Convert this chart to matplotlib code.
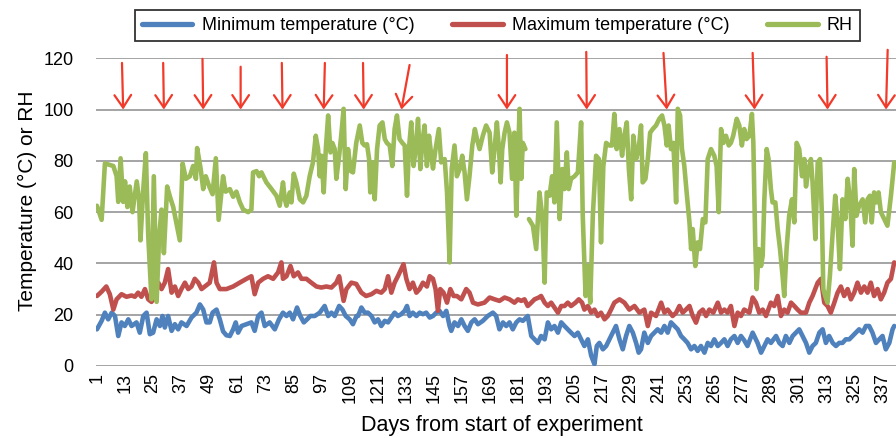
import numpy as np
import matplotlib
matplotlib.use("Agg")
import matplotlib.pyplot as plt

plt.rcParams['font.family'] = ['Liberation Sans', 'DejaVu Sans']

# ---- data (day, value) ----
rh_days = [1, 3, 4.4, 8, 9.4, 10.1, 11.1, 12.2, 13, 14, 15, 16.2, 18, 19, 19.6, 20.8, 21.9, 22.9, 24.3, 25.3,
           26.5, 27.6, 28.6, 29.6, 31, 32.2, 33.6, 36.4, 37.6, 39, 40.7, 42.1, 43.3, 43.8, 45.3, 46.4, 47.5, 49,
           50.4, 51.8, 53, 54.9, 56, 57.8, 59.2, 60.6, 62, 63.5, 65.6, 67, 67.7, 69.2, 70.3, 71.3, 73.4, 75.6,
           77.7, 79.1, 80.5, 81.3, 82, 83.4, 84.1, 85.1, 86.2, 87.7, 89.1, 90.5, 91.9, 93.3, 94.5, 95.5, 96.2,
           96.9, 97.9, 98.8, 99.8, 100.8, 101.6, 102.6, 103.3, 104.5, 105.5, 106.4, 107.3, 108.3, 109.5, 110.4,
           111.8, 113.3, 114.4, 115.4, 116.4, 117.3, 117.8, 118.7, 119.7, 120.7, 121.8, 123, 124, 124.9, 126.1,
           127.2, 128.2, 129.2, 130.3, 131.5, 132.5, 133.5, 134.3, 135.3, 136.3, 137.2, 138.2, 139.2, 140, 141,
           142, 142.9, 143.9, 144.6, 145.7, 147.1, 148.1, 149.6, 150.6, 151.7, 152.6, 153.8, 154.8, 156, 157.1,
           158.1, 159.1, 160.2, 161.4, 162.5, 163.4, 164.5, 165.9, 167.3, 168.8, 169.9, 170.9, 171.9, 172.8,
           173.5, 174.2, 175.2, 176.2, 177.3, 178.4, 179.4, 180.2, 180.9, 181.6, 182.3, 183, 184.1, 184.8,
           185.6, 187.3, 188.7, 190.1, 191.3, 192.3, 193.2, 194.4, 195.5, 196.5, 197.5, 198.7, 199.8, 200.8,
           201.8, 202.6, 203.6, 205.1, 206.5, 207.9, 208.6, 209.8, 210.8, 211.8, 212.9, 214.3, 215.5, 216.4,
           217.4, 218.6, 220, 221.1, 222.1, 223.1, 224.3, 225.4, 226.4, 227.4, 228.3, 229.3, 230.2, 231.4,
           232.5, 233.5, 234.2, 235.4, 236.4, 237.4, 238.5, 239.9, 241.3, 242.5, 243.5, 244.5, 245.3, 246.3,
           247.3, 248.5, 249.2, 250.2, 251, 252, 253, 254.2, 254.9, 255.6, 256.7, 257.7, 258.7, 259.9, 261, 262,
           263.4, 264.8, 265.8, 266.7, 267.7, 268.7, 269.8, 271, 271.9, 272.9, 274.4, 275.5, 276.6, 277.6,
           278.6, 279.8, 280.9, 281.5, 282.3, 282.9, 283.8, 284.8, 285.5, 286.2, 287.2, 288, 289, 289.7, 290.9,
           291.9, 292.9, 294, 294.7, 295.7, 296.8, 298, 299, 300, 301.1, 302.3, 303.3, 304, 305.1, 306.1,
           306.8, 308, 309, 310, 310.8, 311.4, 312.2, 313.2, 314.2, 315.4, 316.5, 317.5, 318.5, 319.6, 320.8,
           321.8, 322.8, 323.9, 324.6, 325.6, 326.7, 328.2, 329.3, 330.3, 331.3, 332.1, 333.1, 334.1, 335,
           336, 337.4, 338.8, 340.3, 341.7]
rh_vals = [62.5, 57, 79, 78, 74, 64, 81, 64, 72, 62, 70, 60, 72, 65, 49, 69, 83, 51, 26, 74,
           25, 51, 61, 44, 70, 66, 62, 49, 79, 73, 74, 78, 73, 85, 77, 69, 74, 70,
           67, 81, 57, 74, 68, 69, 66, 68, 64, 61, 60, 61, 75.5, 76, 74, 75.5, 71.6, 69,
           66.4, 62.5, 71.6, 65, 62.5, 67.7, 63.8, 75, 71.6, 65, 63.8, 66.4, 74, 79.4, 89.8, 84.6, 74,
           82, 67.7, 84.6, 97.7, 83.3, 87, 84.6, 73, 82, 91, 100.3, 69, 84.6, 76, 75.5,
           87, 93.8, 87, 86, 86.5, 80.7, 67.7, 79.4, 65, 84.6, 93.8, 95, 88.5, 87, 86,
           78, 92.4, 97.7, 88.5, 87, 86, 66.4, 84.6, 95, 78, 84.6, 96.4, 76.8, 87, 93.8,
           78, 89.8, 82, 77, 84.6, 92.4, 79.4, 80.7, 67.7, 40.4, 76.8, 86, 74, 76.8, 82,
           75.5, 65, 74, 86, 92.4, 88.5, 84.6, 89.8, 93.8, 91, 75.5, 84.6, 95, 84.6,
           71.6, 84.6, 91, 95, 91, 73, 91, 58.6, 80.7, 100.3, 73, 87, 84.6, np.nan,
           57.3, 54.7, 45.6, 67.7, 58.6, 32.5, 67.7, 66.4, 74, 63.8, 95, 57.3, 76.8, 69,
           83.3, 69, 73, 74, 75.5, 95, 58.6, 27.3, 39, 24.7, 58.6, 82, 80.7, 48.2,
           78, 87, 86, 86, 98.3, 84.6, 92.4, 82, 89.8, 95, 76.8, 65, 89.8, 80.7,
           84.6, 93.8, 71.6, 73, 80.7, 91, 92.4, 93.8, 96.4, 97.7, 93.8, 86, 93.8, 84.6,
           87, 63.8, 100.3, 97.7, 84.6, 78, 67.7, 56, 45.6, 53.4, 39, 48.2, 45.6, 57.3, 56, 80.7,
           84.6, 82, 78, 60, 92.4, 87, 89.8, 86, 87, 89.8, 96.4, 93.8, 86, 92.4,
           88.5, 89.8, 98.3, 87, 48.2, 30, 45.6, 39, 43, 65, 84.6, 80.7, 69, 63.8, 63.8,
           53.4, 45.6, 35, 27.3, 45.6, 58.6, 65, 56, 87, 84.6, 74, 80.7, 70, 76.8, 80.7,
           71.6, 49.5, 79.4, 80.7, 58.6, 30, 27.3, 24.7, 35, 52, 66.4, 56, 37.8, 65, 57.3,
           73, 65, 46.9, 76.8, 58.6, 62.5, 65, 56, 65, 66.4, 56, 67.7, 63.8, 67.7,
           60, 57.3, 54.7, 66.4, 79.4]

tmax_days = [1, 3, 5, 6.5, 8, 9.4, 11.5, 13.6, 15.8, 17.2, 18.6, 20, 21.5, 22.9, 24.3, 25.7, 27.2, 28.6, 30,
             31.4, 32.9, 34.3, 35.7, 37.1, 38.6, 40, 41.4, 42.8, 44.3, 45.7, 47.1, 49.2, 51, 52.1, 53.5,
             56.3, 59.2, 62, 64.9, 67, 68.4, 69.9, 72, 74.1, 76.3, 78.4, 79.8, 80.5, 82, 83.7, 85.1, 86.9,
             88.4, 90.5, 92.6, 94.8, 96.9, 99, 101.2, 103.3, 104.5, 105.5, 106.4, 107.6, 109.7, 111.8,
             114, 116, 118.3, 120.4, 122.5, 124, 125.4, 126.8, 128.2, 129.6, 131, 132, 133.2, 134.6, 136,
             137.5, 138.9, 140.3, 142, 143.2, 144.6, 145.7, 146.7, 147.7, 149.1, 150.6, 152, 153.4, 154.8,
             156.7, 158.8, 160.2, 161.7, 163.8, 166.6, 168.8, 170.9, 173, 175.2, 177.3, 179.4, 180.9,
             182.3, 183.7, 185.1, 186.6, 188, 189.8, 190.8, 192.3, 193.7, 195.1, 196.5, 198, 199.4, 200.8,
             202.2, 203.6, 205.5, 206.9, 208.3, 209.3, 210.8, 212.2, 213.6, 215, 216.4, 217.9, 219.3,
             220.7, 222.1, 224.3, 226.4, 228.5, 230.7, 232.8, 234.9, 236.4, 237.8, 239.9, 242.1, 243.5,
             244.9, 247, 248.5, 249.9, 251.3, 252.7, 254.2, 255.6, 257, 258.4, 259.9, 261.3, 262.7, 264.4,
             266.3, 267.7, 269.1, 270.5, 271.9, 273.4, 274.8, 276.2, 277.6, 279.8, 281.2, 282.6, 284,
             285.5, 286.9, 289, 290.4, 291.9, 293.3, 294.7, 296.1, 297.6, 299, 300.4, 301.8, 304, 305.4,
             306.8, 309, 310.4, 311.8, 313.2, 314.6, 316.1, 317.5, 318.9, 320.3, 321.8, 323.2, 324.6, 326,
             327.5, 328.9, 330.3, 331.7, 333.1, 334.6, 336, 337.4, 338.8, 340.3, 341.7]
tmax_vals = [27.3, 29, 31, 28, 22, 26, 28, 27, 27.5, 27, 28.6, 27, 30, 26, 25, 27, 32.5, 30, 32.5,
             37.8, 28.6, 31, 27.3, 30, 32.5, 30, 31, 34, 32.5, 30, 31, 32.5, 40.4, 32.5, 30,
             30, 31, 32.5, 34, 35, 28, 32.5, 34, 35, 34, 36.5, 40.4, 34, 35, 39, 35, 36.5,
             34, 34, 32.5, 31, 30.6, 31, 30.6, 32.5, 35, 30, 25.4, 30, 32.5, 32,
             28.6, 27.3, 28, 29.3, 28.6, 30, 35, 28.6, 32.5, 35, 37.8, 39.7, 34, 30, 32.5,
             28.6, 30, 32.5, 31, 35, 34, 30, 21.5, 30, 28.6, 24.7, 30, 27.3, 27.3,
             26, 30, 28.6, 24.7, 24, 24.7, 26.7, 26, 25.4, 26.7, 26, 24.7, 26,
             25.4, 26, 23.4, 24.7, 26, 26.7, 27.3, 24.7, 23.4, 24.7, 22.8, 20.8, 23.4, 23.4,
             24.7, 23.4, 24.7, 26, 24.7, 22, 23.4, 20.8, 22, 19.5, 20.8, 18.2, 19.5,
             22, 24.7, 26, 24.7, 22, 23.4, 20.8, 22, 15.6, 20.8, 19.5, 24.7, 20.8,
             22, 19.5, 20.8, 23.4, 20.8, 22, 23.4, 19.5, 16.9, 20.8, 22, 19.5, 22, 20.8,
             24.7, 20.8, 22, 20.8, 23.4, 15.6, 20.8, 19.5, 22, 20.8, 26.7, 24.7, 20.8,
             22, 19.5, 24.7, 23.4, 27.3, 19.5, 22, 20.8, 24.7, 23.4, 22, 20.8, 20.8, 24.7,
             27.3, 32.5, 34, 24.7, 23.4, 20.8, 24.7, 28.6, 31, 27.3, 30, 26, 28.6, 32.5,
             28.6, 31, 28.6, 32.5, 27.3, 30, 26, 28.6, 32.5, 34, 40.4]

tmin_days = [1, 3, 4.4, 5.8, 7.3, 8.7, 10.1, 11.5, 12.9, 14.4, 15.8, 17.9, 19.3, 20.8, 22.2, 23.6, 25, 26.5,
             27.9, 29, 30, 31.4, 32.9, 34.3, 35.7, 37.1, 39.3, 41.4, 43.5, 45, 46.4, 47.8, 49.2, 50.4, 52.1,
             53.5, 54.9, 56.3, 57.8, 59.2, 60.3, 61.3, 62.8, 64.9, 67, 68.4, 69.9, 71.3, 72.7, 74.8, 77, 78.8,
             80.5, 82, 83.4, 84.8, 86.5, 87.9, 89.4, 90.8, 92.2, 94.1, 96.2, 98.3, 99.8, 101.2, 102.6, 104.5,
             105.9, 107.3, 109, 110.4, 111.9, 112.6, 114, 115.4, 116.8, 118.3, 119.7, 121.1, 122.5, 124,
             125.4, 126.8, 128.2, 129.6, 131, 132.5, 133.5, 134.6, 136, 137.5, 138.9, 140.3, 141.7, 143.2,
             144.6, 146, 147.4, 148.9, 150.3, 151.7, 152.4, 153.8, 155.3, 156.7, 158.1, 159.5, 161, 162.4,
             163.8, 165.9, 168, 170.2, 171.6, 173, 174.5, 175.9, 177.3, 178.7, 180.2, 181.6, 183, 185.1,
             186.6, 188, 189.4, 190.8, 192.3, 193.7, 195.1, 196.5, 198, 199.4, 200.8, 202.2, 203.6, 205.1,
             206.5, 207.9, 209.3, 210.8, 212.2, 213.6, 214.6, 215.7, 217.2, 218.6, 220, 221.4, 222.8, 224.3,
             225.7, 227.1, 228.5, 230, 231.4, 232.5, 233.5, 234.9, 236.4, 237.8, 239.2, 240.6, 242.1, 243.5,
             244.9, 246.3, 247.8, 249.2, 250.6, 252, 253.4, 254.9, 256.3, 257.7, 259.1, 260.6, 262, 263.4,
             264.8, 266.3, 267.7, 269.1, 270.5, 271.9, 273.4, 274.8, 276.2, 277.6, 279, 281.2, 283.3, 284.8,
             286.2, 287.6, 289, 291.2, 292.6, 294, 295.4, 296.9, 298.3, 299.7, 301.1, 302.5, 304, 305.4,
             306.8, 308.2, 309.7, 311.1, 312.5, 313.9, 315.4, 316.8, 318.2, 319.6, 321, 322.5, 323.9, 325.3,
             326.7, 328.2, 329.6, 331, 332.4, 333.9, 335.3, 336.7, 338.1, 339.6, 341, 341.7]
tmin_vals = [14.3, 17.6, 20.8, 18.2, 20.8, 19.5, 11.7, 17, 15.6, 18.2, 15.6, 17, 13, 19.5, 20.8, 12.4, 13, 18.2,
             15.6, 19.5, 15, 19.5, 13.7, 16.3, 14.3, 17, 15.6, 18.9, 20.8, 24, 22, 17, 17, 20.8, 22,
             18.2, 13.5, 12, 11.7, 14.3, 17, 13, 15.6, 16.3, 17, 13.7, 19.5, 20.8, 15.6, 17, 14.3, 18.2,
             20.8, 19.5, 20.8, 18.2, 22.8, 19.5, 17, 18.2, 19.5, 19.5, 20.8, 23.4, 19.5, 20.8, 19.5, 23.4,
             22, 19.5, 18.2, 16.3, 19.5, 19.5, 22.8, 20.8, 20.8, 19.5, 17, 18.2, 15.6, 17.6,
             17, 18.9, 20.8, 19.5, 20.2, 21.5, 23.4, 19.5, 20.8, 19.5, 20.8, 20.2, 20.8, 18.9,
             19.5, 20.8, 21.5, 19.5, 21.5, 15.6, 13.7, 17, 15.6, 18.2, 15.6, 13.7, 17, 18.2,
             16.3, 17.6, 19.5, 20.8, 19.5, 14.3, 17, 15.6, 17, 14.3, 17, 18.2, 17.6, 19.5,
             11.7, 10.4, 9, 11.7, 10.4, 17, 14.3, 15.6, 13, 17, 15.6, 14.3, 13, 11.7,
             13, 10.4, 7.8, 10.4, 4, 0.7, 7.8, 9, 6.5, 7.8, 10.4, 13, 15.6, 10.4,
             6.5, 11.7, 15.6, 13, 9, 5.2, 6.5, 13, 9, 11.7, 13, 14.3, 13, 15.6,
             13, 17, 15.6, 14.3, 11.7, 10.4, 9, 6.5, 7.8, 5.9, 7.8, 5.2, 9, 7.8,
             10.4, 7.8, 9, 10.4, 7.8, 10.4, 11.7, 9, 11.7, 10, 7.8, 13, 9, 5.2,
             7.8, 10.4, 9, 11.7, 9, 7.8, 11.7, 9, 11.7, 13, 14.3, 11.7, 9, 5.2,
             7.8, 9, 13, 14.3, 9, 11.7, 9, 7.8, 9, 9, 10.4, 10.4, 11.7, 13,
             14.3, 13, 15.6, 15.6, 13, 9, 10.4, 11.7, 6.5, 9, 14.3, 15.6]

# red arrows: (day at arrow top, day at arrow tip, value at arrow top)
arrow_top_days = [11.7, 29.3, 46.1, 62.4, 80.0, 98.4, 114.7, 134.6, 176.2, 210.1, 243.1, 281.2, 312.8, 338.9]
arrow_tip_days = [12.2, 29.6, 46.4, 62.4, 80.3, 97.9, 115.0, 131.1, 176.2, 210.3, 244.5, 282.0, 313.2, 338.2]
arrow_top_vals = [118.2, 118.2, 119.8, 116.7, 118.2, 118.2, 118.2, 117.4, 121.3, 122.5, 122.1, 122.1, 120.6, 123.3]
arrow_tip_val = 100

x_ticks = list(range(1, 338, 12))
y_ticks = [0, 20, 40, 60, 80, 100, 120]

# ---- figure ----
fig = plt.figure(figsize=(8.96, 4.38), dpi=100)
ax = fig.add_axes([0.1069, 0.1644, 0.8932, 0.7025])

for v in y_ticks:
    ax.axhline(v, color='#8c8c8c', lw=1.1, zorder=1)

lmin, = ax.plot(tmin_days, tmin_vals, color='#4F81BD', lw=3.3, solid_capstyle='round',
                solid_joinstyle='round', label='Minimum temperature (°C)', zorder=3)
lmax, = ax.plot(tmax_days, tmax_vals, color='#C0504D', lw=3.3, solid_capstyle='round',
                solid_joinstyle='round', label='Maximum temperature (°C)', zorder=4)
lrh, = ax.plot(rh_days, rh_vals, color='#9BBB59', lw=3.3, solid_capstyle='round',
               solid_joinstyle='round', label='RH', zorder=5)

for xt, xp, yt in zip(arrow_top_days, arrow_tip_days, arrow_top_vals):
    ax.annotate('', xy=(xp, arrow_tip_val), xytext=(xt, yt), annotation_clip=False,
                arrowprops=dict(arrowstyle='->,head_length=0.9,head_width=0.6',
                                color='#f23a2a', lw=1.6, mutation_scale=10,
                                shrinkA=0, shrinkB=0), zorder=6)

ax.set_xlim(0.5, 342.5)
ax.set_ylim(0, 120)
ax.set_xticks(x_ticks)
ax.set_xticklabels([str(d) for d in x_ticks], rotation=90, fontsize=13)
ax.set_yticks(y_ticks)
ax.set_yticklabels([str(v) for v in y_ticks], fontsize=13)
ax.tick_params(axis='both', length=0)
ax.tick_params(axis='y', pad=16)
ax.tick_params(axis='x', pad=5)
for s in ax.spines.values():
    s.set_visible(False)

ax.set_xlabel('Days from start of experiment', fontsize=15.5)
ax.xaxis.set_label_coords(0.508, -0.160)
ax.set_ylabel('Temperature (°C) or RH', fontsize=15)
ax.yaxis.set_label_coords(-0.0734, 0.536)

leg = fig.legend(handles=[lmin, lmax, lrh], loc='upper center', bbox_to_anchor=(0.555, 0.99),
                 ncol=3, fontsize=13, frameon=True, fancybox=False, handlelength=2.8,
                 handletextpad=0.5, columnspacing=2.1, borderpad=0.4, borderaxespad=0.3)
leg.get_frame().set_edgecolor('black')
leg.get_frame().set_linewidth(1.3)
for h in leg.get_lines():
    h.set_linewidth(3.8)

fig.savefig('out.png', dpi=100)
